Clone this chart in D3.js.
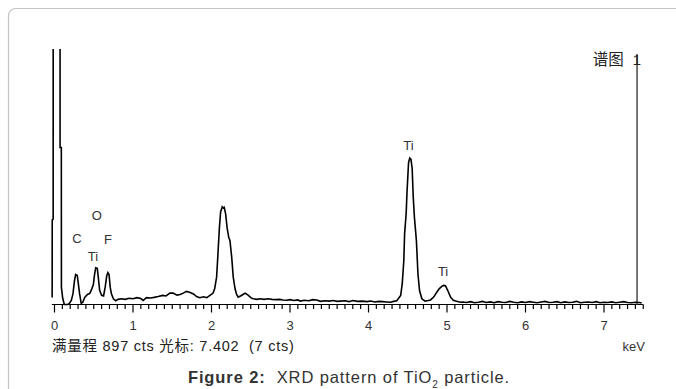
<!DOCTYPE html>
<html>
<head>
<meta charset="utf-8">
<script src="https://cdn.jsdelivr.net/npm/d3@7"></script>
<style>
  body { margin: 0; background: #fff; }
  svg { display: block; }
  .lbl { font-family: "Liberation Sans", Arial, sans-serif; font-size: 13px; fill: #333; }
  .cjk { font-family: "Liberation Sans", "Noto Sans CJK SC", sans-serif; font-size: 14.5px; fill: #222; }
</style>
</head>
<body>
<svg id="chart" width="676" height="389"></svg>
<script>
// spectrum (keV / counts)
const energies = [-0.030, -0.029, -0.017, -0.016, 0.070, 0.071, 0.087, 0.088, 0.105, 0.125, 0.17, 0.19, 0.215, 0.235, 0.255, 0.27, 0.29, 0.305, 0.32, 0.34,
  0.36, 0.385, 0.42, 0.45, 0.475, 0.495, 0.51, 0.525, 0.545, 0.56, 0.575, 0.6, 0.625, 0.645, 0.665, 0.68, 0.695, 0.71, 0.725, 0.75,
  0.78, 0.81, 0.85, 0.9, 0.95, 1.0, 1.05, 1.1, 1.13, 1.17, 1.22, 1.27, 1.32, 1.38, 1.42, 1.47, 1.51, 1.56, 1.6, 1.64,
  1.68, 1.72, 1.77, 1.81, 1.85, 1.9, 1.94, 1.98, 2.02, 2.04, 2.065, 2.08, 2.1, 2.116, 2.137, 2.15, 2.162, 2.18, 2.2, 2.22,
  2.235, 2.257, 2.277, 2.3, 2.32, 2.34, 2.37, 2.4, 2.43, 2.47, 2.5, 2.53, 2.58, 2.62, 2.67, 2.72, 2.77, 2.82, 2.87, 2.91,
  2.96, 3.0, 3.05, 3.1, 3.13, 3.18, 3.24, 3.29, 3.34, 3.39, 3.44, 3.5, 3.55, 3.6, 3.64, 3.7, 3.75, 3.8, 3.86, 3.92,
  3.98, 4.03, 4.08, 4.13, 4.18, 4.23, 4.28, 4.32, 4.36, 4.41, 4.43, 4.45, 4.46, 4.48, 4.49, 4.51, 4.525, 4.54, 4.556, 4.57,
  4.585, 4.61, 4.63, 4.65, 4.68, 4.72, 4.76, 4.79, 4.83, 4.87, 4.9, 4.94, 4.96, 4.98, 5.01, 5.045, 5.08, 5.11, 5.17, 5.2,
  5.25, 5.3, 5.35, 5.4, 5.45, 5.5, 5.55, 5.6, 5.65, 5.7, 5.75, 5.8, 5.85, 5.9, 5.95, 6.0, 6.05, 6.1, 6.15, 6.2,
  6.25, 6.3, 6.35, 6.4, 6.45, 6.5, 6.55, 6.6, 6.65, 6.7, 6.75, 6.8, 6.85, 6.9, 6.95, 7.0, 7.05, 7.1, 7.15, 7.2,
  7.25, 7.3, 7.35, 7.4, 7.45, 7.48];
const counts = [25, 297, 300, 3000, 3000, 551, 551, 60, 21, 0, 0, 4, 15, 37, 85, 105, 102, 70, 37, 4,
  8, 25, 35, 39, 55, 70, 105, 129, 127, 90, 50, 32, 30, 60, 100, 112, 105, 60, 38, 20,
  13, 18, 20, 18, 22, 20, 24, 21, 14, 24, 23, 25, 28, 32, 30, 40, 40, 33, 35, 40,
  46, 43, 37, 28, 24, 27, 24, 32, 40, 55, 96, 167, 267, 325, 343, 339, 341, 318, 267, 235,
  225, 167, 96, 55, 35, 26, 30, 35, 40, 32, 24, 20, 18, 20, 18, 20, 18, 17, 18, 16,
  15, 17, 14, 16, 12, 15, 13, 17, 16, 11, 13, 12, 14, 11, 12, 13, 10, 14, 11, 12,
  10, 12, 9, 11, 10, 9, 8, 11, 13, 32, 73, 155, 249, 320, 391, 497, 514, 510, 479, 377,
  306, 225, 107, 49, 20, 12, 14, 16, 26, 43, 55, 65, 67, 66, 49, 26, 15, 12, 8, 9,
  7, 10, 6, 8, 11, 7, 9, 6, 10, 8, 7, 11, 8, 6, 9, 7, 10, 8, 6, 9,
  11, 7, 8, 10, 6, 9, 7, 8, 11, 6, 8, 9, 7, 10, 6, 8, 7, 9, 6, 8,
  10, 7, 6, 8, 7, 5];

// peak labels
const peakNames = ["C", "O", "F", "Ti", "Ti", "Ti"];
const peakEnergies = [0.287, 0.54, 0.68, 0.49, 4.51, 4.95];
const peakCounts = [215, 296, 211, 151, 542, 99];

const tickLabels = ["0", "1", "2", "3", "4", "5", "6", "7"];
const fullScale = 897;
const cursorKeV = 7.402;
const cursorCts = 7;

const svg = d3.select("#chart");

// card frame
svg.append("rect")
  .attr("x", 8.5).attr("y", 8.5)
  .attr("width", 720).attr("height", 420)
  .attr("rx", 7)
  .attr("fill", "none")
  .attr("stroke", "#c4c4c4")
  .attr("stroke-width", 1.2);

const x = d3.scaleLinear().domain([0, 7]).range([54.5, 604]);
const y = d3.scaleLinear().domain([0, fullScale]).range([304.5, 49]);

svg.append("defs").append("clipPath").attr("id", "plotClip")
  .append("rect")
  .attr("x", 40).attr("y", y(fullScale))
  .attr("width", 620).attr("height", y(0) - y(fullScale) + 2);

// axis with minor ticks
const axisG = svg.append("g").attr("transform", `translate(0,${y(0)})`);
axisG.append("line")
  .attr("x1", x(-0.035)).attr("x2", x(7.5))
  .attr("stroke", "#000").attr("stroke-width", 1.2);
const minor = d3.range(0, 76).map(i => i / 10);
axisG.selectAll("line.tk")
  .data(minor)
  .join("line")
  .attr("class", "tk")
  .attr("x1", d => x(d)).attr("x2", d => x(d))
  .attr("y1", 0)
  .attr("y2", (d, i) => i % 10 === 0 ? 8 : 4.5)
  .attr("stroke", "#000").attr("stroke-width", 1.2);
axisG.selectAll("text")
  .data(tickLabels)
  .join("text")
  .attr("class", "lbl")
  .attr("x", (d, i) => x(i))
  .attr("y", 25)
  .attr("text-anchor", "middle")
  .text(d => d);

// cursor line
svg.append("line")
  .attr("x1", x(cursorKeV) + 1.5).attr("x2", x(cursorKeV) + 1.5)
  .attr("y1", y(fullScale) + 5).attr("y2", y(0))
  .attr("stroke", "#555").attr("stroke-width", 1.6);

// spectrum
const pts = energies.map((e, i) => [e, counts[i]]);
const line = d3.line().x(d => x(d[0])).y(d => y(d[1]));
svg.append("path")
  .datum(pts)
  .attr("d", line)
  .attr("clip-path", "url(#plotClip)")
  .attr("fill", "none")
  .attr("stroke", "#000")
  .attr("stroke-width", 1.6)
  .attr("stroke-linejoin", "miter");

// peak labels
svg.selectAll("text.peak")
  .data(peakNames)
  .join("text")
  .attr("class", "lbl peak")
  .attr("x", (d, i) => x(peakEnergies[i]))
  .attr("y", (d, i) => y(peakCounts[i]))
  .attr("text-anchor", "middle")
  .text(d => d);

// texts
svg.append("text")
  .attr("class", "cjk")
  .attr("x", 641).attr("y", 65)
  .attr("text-anchor", "end")
  .style("font-size", "15.5px")
  .style("white-space", "pre")
  .text("谱图  1");

svg.append("text")
  .attr("class", "cjk")
  .attr("x", 52).attr("y", 351)
  .style("white-space", "pre")
  .style("letter-spacing", "0.75px")
  .text(`满量程 ${fullScale} cts 光标: ${cursorKeV}  (${cursorCts} cts)`);

svg.append("text")
  .attr("class", "lbl")
  .attr("x", 645).attr("y", 351)
  .attr("text-anchor", "end")
  .text("keV");

const cap = svg.append("text")
  .attr("x", 349).attr("y", 383)
  .attr("text-anchor", "middle")
  .style("font-family", "'Liberation Sans', Arial, sans-serif")
  .style("font-size", "16.5px")
  .style("letter-spacing", "0.9px")
  .style("fill", "#333")
  .style("white-space", "pre");
cap.append("tspan").attr("font-weight", "bold").text("Figure 2:");
cap.append("tspan").text("  XRD pattern of TiO");
cap.append("tspan").attr("font-size", "10px").attr("dy", 5).text("2");
cap.append("tspan").attr("dy", -5).text(" particle.");
</script>
</body>
</html>
